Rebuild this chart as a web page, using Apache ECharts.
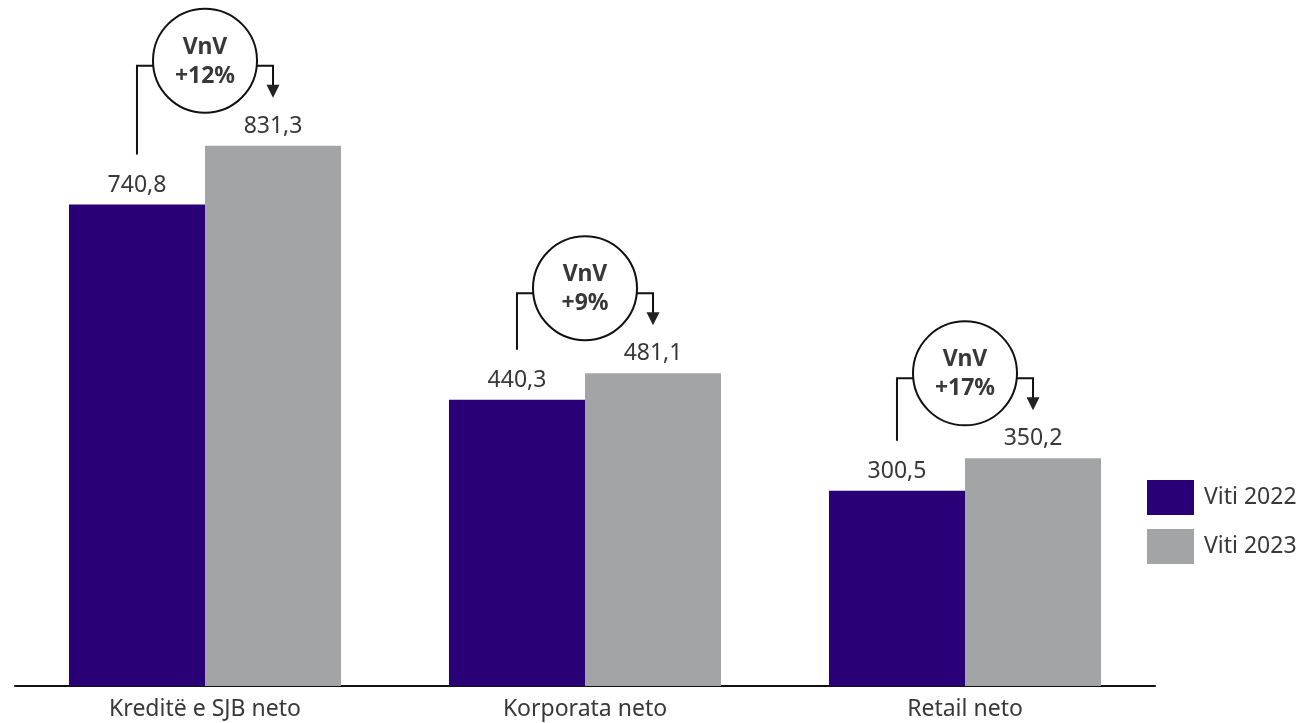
<!DOCTYPE html>
<html>
<head>
<meta charset="utf-8">
<script src="https://cdn.jsdelivr.net/npm/echarts@6/dist/echarts.min.js"></script>
<style>
html,body{margin:0;padding:0;background:#fff;}
#c{width:1303px;height:723px;}
</style>
</head>
<body>
<div id="c"></div>
<script>
const categories = ['Kreditë e SJB neto', 'Korporata neto', 'Retail neto'];
const values2022 = [740.8, 440.3, 300.5];
const values2023 = [831.3, 481.1, 350.2];
const growthLabels = ['+12%', '+9%', '+17%'];
const seriesNames = ['Viti 2022', 'Viti 2023'];

const FONT = '"Noto Sans", sans-serif';
const TXT = '#383838';
const PURPLE = '#2a0077';
const GRAY = '#a3a4a6';
const CAT_GAP = 0.284;
const FS = 23;

const chart = echarts.init(document.getElementById('c'), null, {renderer: 'canvas'});
const fmt = p => String(p.value).replace('.', ',');

chart.setOption({
  animation: false,
  grid: {left: 15, right: 148, top: 36, bottom: 37, containLabel: false},
  legend: {
    orient: 'vertical', left: 1147, top: 480, padding: 0,
    itemWidth: 47, itemHeight: 35, itemGap: 14,
    icon: 'rect',
    textStyle: {fontFamily: FONT, fontSize: FS, color: TXT, padding: [0, 0, 0, 5]},
    data: seriesNames
  },
  xAxis: {
    type: 'category', data: categories,
    axisLine: {lineStyle: {color: '#111', width: 2}},
    axisTick: {show: false},
    axisLabel: {fontFamily: FONT, fontSize: FS, color: TXT, margin: 12}
  },
  yAxis: {type: 'value', min: 0, max: 1000, show: false, splitLine: {show: false}},
  series: [
    {name: seriesNames[0], type: 'bar', data: values2022, barGap: '0%', barCategoryGap: (CAT_GAP*100)+'%',
     itemStyle: {color: PURPLE},
     label: {show: true, position: 'top', distance: 8, formatter: fmt, fontFamily: FONT, fontSize: FS, color: TXT}},
    {name: seriesNames[1], type: 'bar', data: values2023, barGap: '0%', barCategoryGap: (CAT_GAP*100)+'%',
     itemStyle: {color: GRAY},
     label: {show: true, position: 'top', distance: 8, formatter: fmt, fontFamily: FONT, fontSize: FS, color: TXT}}
  ]
});

// annotation brackets positioned through the chart's own scales
const c0 = chart.convertToPixel({seriesIndex: 0}, [0, 0]);
const c1 = chart.convertToPixel({seriesIndex: 0}, [1, 0]);
const band = c1[0] - c0[0];
const barW = band * (1 - CAT_GAP) / 2;
const R = 52;
const elements = [];
categories.forEach((cat, i) => {
  const p22 = chart.convertToPixel({seriesIndex: 0}, [i, values2022[i]]);
  const p23 = chart.convertToPixel({seriesIndex: 1}, [i, values2023[i]]);
  const cx = p22[0];
  const xL = cx - barW / 2;
  const xR = cx + barW / 2;
  const cy = p23[1] - 85;
  const hy = cy + 5;
  const tip = p23[1] - 48;
  const lineStyle = {stroke: '#111', lineWidth: 2, fill: null};
  elements.push({type: 'polyline', shape: {points: [[xL, p22[1] - 50], [xL, hy], [cx - R, hy]]}, style: lineStyle});
  elements.push({type: 'polyline', shape: {points: [[cx + R, hy], [xR, hy], [xR, tip - 12]]}, style: lineStyle});
  elements.push({type: 'polygon', shape: {points: [[xR - 6.5, tip - 13], [xR + 6.5, tip - 13], [xR, tip]]}, style: {fill: '#222'}});
  elements.push({type: 'circle', shape: {cx: cx, cy: cy, r: R}, style: {stroke: '#111', lineWidth: 2, fill: '#fff'}});
  elements.push({type: 'text', x: cx, y: cy + 1, style: {
    text: 'VnV\n' + growthLabels[i], align: 'center', verticalAlign: 'middle',
    font: 'bold ' + FS + 'px ' + FONT, fill: TXT, lineHeight: 29
  }});
});
chart.setOption({graphic: elements});
</script>
</body>
</html>
